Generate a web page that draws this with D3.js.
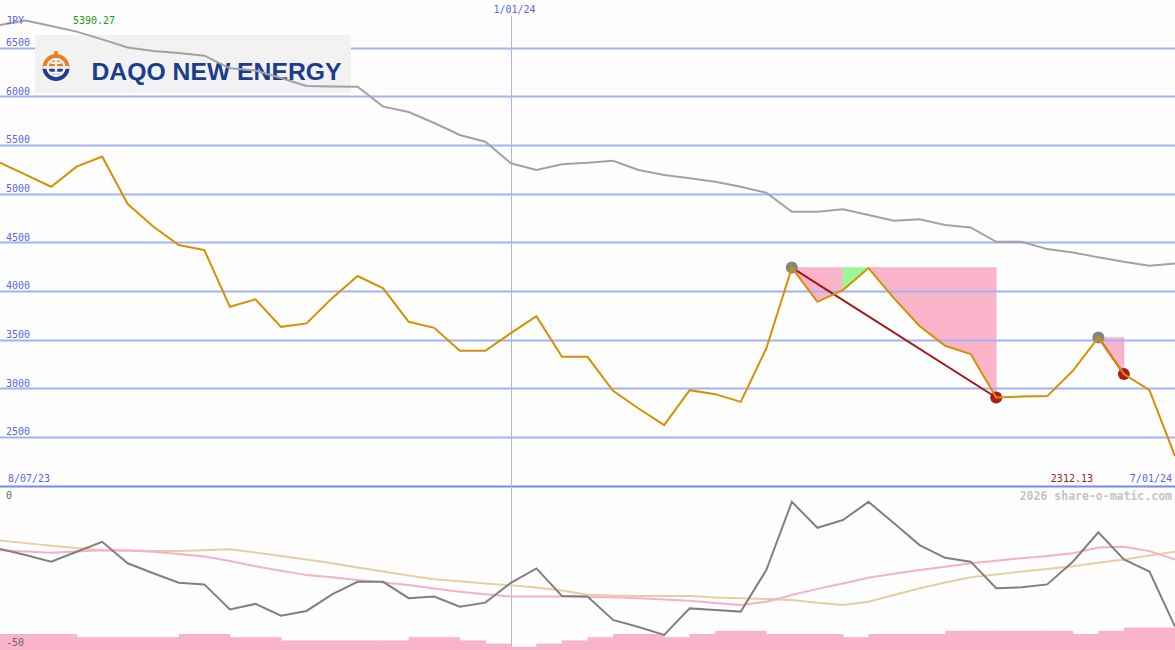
<!DOCTYPE html>
<html>
<head>
<meta charset="utf-8">
<script src="https://cdn.jsdelivr.net/npm/d3@7"></script>
<style>
  html, body { margin: 0; padding: 0; background: #fdfefd; }
  svg { display: block; }
  text { font-family: "DejaVu Sans Mono", monospace; }
</style>
</head>
<body>
<svg id="chart" width="1175" height="650"></svg>
<script>
// ---------- DATA ----------
const dates = [
  "2023-08-14","2023-08-21","2023-08-28","2023-09-04","2023-09-11","2023-09-18","2023-09-25",
  "2023-10-02","2023-10-09","2023-10-16","2023-10-23","2023-10-30","2023-11-06","2023-11-13",
  "2023-11-20","2023-11-27","2023-12-04","2023-12-11","2023-12-18","2023-12-25","2024-01-01",
  "2024-01-08","2024-01-15","2024-01-22","2024-01-29","2024-02-05","2024-02-12","2024-02-19",
  "2024-02-26","2024-03-04","2024-03-11","2024-03-18","2024-03-25","2024-04-01","2024-04-08",
  "2024-04-15","2024-04-22","2024-04-29","2024-05-06","2024-05-13","2024-05-20","2024-05-27",
  "2024-06-03","2024-06-10","2024-06-17","2024-06-24","2024-07-01"
];
const price = [5328,5206,5081,5287,5390.27,4903,4672,4481,4430,3847,3923,3641,3676,3936,4163,4036,
  3693,3631,3395,3395,3577,3751,3333,3333,2983,2802,2630,2990,2949,2870,3419,4250,3898,4019,4245,
  3933,3649,3446,3361,2915,2924,2929,3189,3532,3155,2990,2312.13];
const avgLine = [6744,6788,6733,6675,6595,6512,6476,6456,6428,6298,6276,6199,6116,6111,6109,5904,
  5849,5736,5613,5544,5322,5253,5311,5328,5348,5253,5201,5167,5132,5081,5019,4824,4824,4849,4790,
  4731,4746,4687,4663,4515,4515,4440,4406,4355,4310,4269,4293];
const oscillator = [-18.4,-20.3,-22.4,-19.3,-16.2,-22.9,-26.0,-29.0,-29.5,-37.3,-35.6,-39.3,-37.8,
  -32.6,-28.7,-28.7,-33.8,-33.3,-36.5,-35.2,-29.0,-24.5,-33.1,-33.3,-40.6,-42.8,-45.3,-37.0,-37.5,
  -38.0,-25.0,-3.7,-11.8,-9.4,-3.7,-10.4,-17.2,-21.2,-22.4,-30.7,-30.4,-29.5,-22.4,-13.2,-21.7,-25.5,-42.7];
const maFast = [-18.8,-19.2,-19.6,-19.2,-18.8,-18.9,-19.3,-20.0,-20.8,-22.2,-23.8,-25.2,-26.6,-27.3,
  -28.1,-28.9,-29.7,-30.8,-31.8,-32.6,-33.3,-33.3,-33.3,-33.4,-33.5,-33.8,-34.2,-34.6,-35.3,-35.9,
  -34.9,-32.8,-30.9,-29.2,-27.4,-26.2,-25.0,-24.0,-22.9,-22.1,-21.3,-20.6,-19.8,-18.0,-17.7,-19.1,-21.7];
const maSlow = [-15.8,-16.6,-17.4,-18.1,-18.8,-18.9,-19.1,-19.1,-18.8,-18.5,-19.5,-20.6,-21.7,-22.9,
  -24.2,-25.5,-26.7,-27.9,-28.5,-29.2,-29.8,-30.5,-31.4,-32.7,-33.0,-33.1,-33.1,-33.1,-33.6,-33.8,
  -34.1,-34.4,-35.2,-35.9,-34.9,-32.8,-30.7,-28.9,-27.3,-26.4,-25.5,-24.7,-23.8,-22.7,-21.7,-20.5,-19.3];
const volumeBars = [5,5,5,4,4,4,4,5,5,4,4,3,3,3,3,3,4,4,3,2,1,2,3,4,5,5,4,5,6,6,5,5,5,4,5,5,5,6,6,6,6,6,5,6,7,7];
const priceTicks = [2500,3000,3500,4000,4500,5000,5500,6000,6500];
const lowerTicks = [0,-50];
const peakIdx = [31, 43];
const troughIdx = [39, 44];
const recoveryIdx = [33];
const dateLabels = ["8/07/23","1/01/24","7/01/24"];
const markerDate = "2024-01-01";
const currency = "JPY";
const maxLabel = "5390.27";
const minLabel = "2312.13";
const brand = "DAQO NEW ENERGY";
const credit = "2026 share-o-matic.com";

// ---------- SCALES ----------
const W = 1175, H = 650;
const parse = d3.timeParse("%Y-%m-%d");
const dts = dates.map(parse);
const x = d3.scaleTime().domain([dts[0], dts[dts.length-1]]).range([0, W]);
const y = d3.scaleLinear().domain([2000, 7000]).range([486.5, 0]);
const yl = d3.scaleLinear().domain([-50, 0]).range([650, 490]);

const svg = d3.select("#chart");
svg.append("rect").attr("width", W).attr("height", H).attr("fill", "#fdfefd");

const pink = "#f9b4c9", green = "#98f898";

// ---------- DRAWDOWN FILLS ----------
peakIdx.forEach((p, k) => {
  const t = troughIdx[k];
  const top = price[p];
  for (let i = p; i < t; i++) {
    const seg = [i, i + 1];
    const area = d3.area()
      .x(j => x(dts[j]))
      .y0(() => y(top))
      .y1(j => y(price[j]));
    svg.append("path")
      .attr("d", area(seg))
      .attr("fill", recoveryIdx.includes(i) ? green : pink)
      .attr("stroke", recoveryIdx.includes(i) ? green : pink)
      .attr("stroke-width", 0.6);
  }
});

// ---------- GRID ----------
svg.append("g").selectAll("line").data(priceTicks).join("line")
  .attr("x1", 0).attr("x2", W)
  .attr("y1", d => Math.round(y(d)) - 0.5).attr("y2", d => Math.round(y(d)) - 0.5)
  .attr("stroke", "#a2b2f2").attr("stroke-width", 2);
svg.append("line").attr("x1", 0).attr("x2", W).attr("y1", y(2000)).attr("y2", y(2000))
  .attr("stroke", "#7888f0").attr("stroke-width", 2);

// vertical marker
const xm = Math.round(x(parse(markerDate))) + 0.5;
svg.append("line").attr("x1", xm).attr("x2", xm).attr("y1", 16).attr("y2", H)
  .attr("stroke", "#a8b6f0").attr("stroke-width", 1);

// ---------- LOWER PANEL ----------
svg.append("g").selectAll("rect").data(volumeBars).join("rect")
  .attr("x", (d, i) => x(dts[i]))
  .attr("width", (d, i) => x(dts[i + 1]) - x(dts[i]) + 0.5)
  .attr("y", d => yl(-50 + d))
  .attr("height", d => yl(-50) - yl(-50 + d))
  .attr("fill", pink);

const lowLine = d3.line().x((d, i) => x(dts[i])).y(d => yl(d));
svg.append("path").attr("d", lowLine(maSlow)).attr("fill", "none").attr("stroke", "#e6cf9e").attr("stroke-width", 2);
svg.append("path").attr("d", lowLine(maFast)).attr("fill", "none").attr("stroke", "#f8b0c8").attr("stroke-width", 2);
svg.append("path").attr("d", lowLine(oscillator)).attr("fill", "none").attr("stroke", "#808080").attr("stroke-width", 2);

svg.append("g").selectAll("text").data(lowerTicks).join("text")
  .attr("x", 6).attr("y", d => d === 0 ? 499 : 646)
  .attr("font-size", 10).attr("fill", "#686868").text(d => d);

// ---------- LOGO ----------
const logo = svg.append("g");
const bg = "#f2f2f2";
logo.append("rect").attr("x", 35).attr("y", 35).attr("width", 316).attr("height", 58).attr("fill", bg);
const cx = 56, cy = 67.5, r = 13.5;
logo.append("rect").attr("x", cx - 1.7).attr("y", 51).attr("width", 3.4).attr("height", 6).attr("fill", "#ee7d1c");
logo.append("path").attr("d", d3.arc()({innerRadius: 0, outerRadius: r, startAngle: -Math.PI/2, endAngle: Math.PI/2}))
  .attr("transform", `translate(${cx},${cy})`).attr("fill", "#ee7d1c");
logo.append("path").attr("d", d3.arc()({innerRadius: 0, outerRadius: r, startAngle: Math.PI/2, endAngle: 3*Math.PI/2}))
  .attr("transform", `translate(${cx},${cy})`).attr("fill", "#1b3f8e");
logo.append("circle").attr("cx", cx).attr("cy", cy).attr("r", 8.5).attr("fill", "none").attr("stroke", bg).attr("stroke-width", 2.4);
logo.append("rect").attr("x", cx - r).attr("y", cy - 1.3).attr("width", 2 * r).attr("height", 2.6).attr("fill", bg);
logo.append("rect").attr("x", cx - 1.2).attr("y", cy - 9).attr("width", 2.4).attr("height", 18).attr("fill", bg);
logo.append("rect").attr("x", cx - 6).attr("y", cy + 4.2).attr("width", 12).attr("height", 2.2).attr("fill", bg);
logo.append("rect").attr("x", cx - 5).attr("y", cy - 5.5).attr("width", 10).attr("height", 2).attr("fill", bg);
logo.append("text").attr("x", 91.5).attr("y", 80)
  .attr("font-weight", "bold")
  .attr("font-size", 24.5).attr("fill", "#1a3d8c")
  .attr("textLength", 250).attr("lengthAdjust", "spacingAndGlyphs")
  .style("font-family", "'Liberation Sans', Arial, sans-serif")
  .text(brand);

// ---------- PRICE LINES ----------
const line = d3.line().x((d, i) => x(dts[i])).y(d => y(d));
svg.append("path").attr("d", line(avgLine)).attr("fill", "none").attr("stroke", "#a2a2a2").attr("stroke-width", 2);

// drawdown connectors
peakIdx.forEach((p, k) => {
  const t = troughIdx[k];
  svg.append("line")
    .attr("x1", x(dts[p])).attr("y1", y(price[p]))
    .attr("x2", x(dts[t])).attr("y2", y(price[t]))
    .attr("stroke", "#a01818").attr("stroke-width", 2);
});
svg.append("g").selectAll("circle").data(peakIdx).join("circle")
  .attr("cx", i => x(dts[i])).attr("cy", i => y(price[i])).attr("r", 6).attr("fill", "#848484");
svg.append("g").selectAll("circle").data(troughIdx).join("circle")
  .attr("cx", i => x(dts[i])).attr("cy", i => y(price[i])).attr("r", 6).attr("fill", "#a81c1c");

svg.append("path").attr("d", line(price)).attr("fill", "none").attr("stroke", "#d69000").attr("stroke-width", 2);

// ---------- LABELS ----------
svg.append("g").selectAll("text").data(priceTicks).join("text")
  .attr("x", 6).attr("y", d => y(d) - 2.5)
  .attr("font-size", 10).attr("fill", "#5a66f0").text(d => d);

svg.append("text").attr("x", 6).attr("y", 24).attr("font-size", 10).attr("fill", "#5a66f0").text(currency);
svg.append("text").attr("x", 73).attr("y", 24).attr("font-size", 10).attr("fill", "#1a9a1a").text(maxLabel);
svg.append("text").attr("x", 1093).attr("y", 482).attr("text-anchor", "end").attr("font-size", 10).attr("fill", "#a02020").text(minLabel);
svg.append("text").attr("x", 8).attr("y", 482).attr("font-size", 10).attr("fill", "#5a66f0").text(dateLabels[0]);
svg.append("text").attr("x", xm - 18).attr("y", 13).attr("font-size", 10).attr("fill", "#5a66f0").text(dateLabels[1]);
svg.append("text").attr("x", 1172).attr("y", 482).attr("text-anchor", "end").attr("font-size", 10).attr("fill", "#5a66f0").text(dateLabels[2]);
svg.append("text").attr("x", 1172).attr("y", 500).attr("text-anchor", "end").attr("font-size", 11.5)
  .attr("font-weight", "bold").attr("fill", "#c4c4c4").text(credit);
</script>
</body>
</html>
